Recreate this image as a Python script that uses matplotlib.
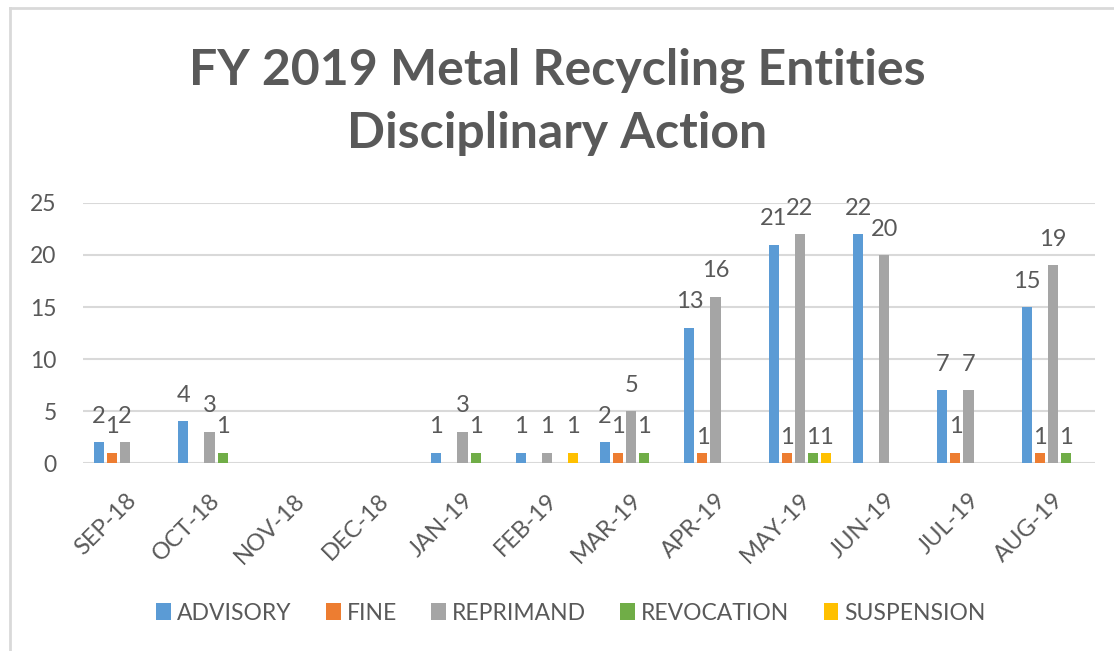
import matplotlib
matplotlib.use("Agg")
import matplotlib.pyplot as plt
from matplotlib.lines import Line2D
import numpy as np

months = ["SEP-18", "OCT-18", "NOV-18", "DEC-18", "JAN-19", "FEB-19",
          "MAR-19", "APR-19", "MAY-19", "JUN-19", "JUL-19", "AUG-19"]
advisory = [2, 4, 0, 0, 1, 1, 2, 13, 21, 22, 7, 15]
fine = [1, 0, 0, 0, 0, 0, 1, 1, 1, 0, 1, 1]
reprimand = [2, 3, 0, 0, 3, 1, 5, 16, 22, 20, 7, 19]
revocation = [0, 1, 0, 0, 1, 0, 1, 0, 1, 0, 0, 1]
suspension = [0, 0, 0, 0, 0, 1, 0, 0, 1, 0, 0, 0]
series_names = ["ADVISORY", "FINE", "REPRIMAND", "REVOCATION", "SUSPENSION"]
series = [advisory, fine, reprimand, revocation, suspension]
colors = ["#5B9BD5", "#ED7D31", "#A5A5A5", "#70AD47", "#FFC000"]
yticks = [0, 5, 10, 15, 20, 25]
title = "FY 2019 Metal Recycling Entities\nDisciplinary Action"

plt.rcParams['font.family'] = ['Lato', 'DejaVu Sans']
txt = "#595959"
fig = plt.figure(figsize=(11.14, 6.51), dpi=100)
W, H = 1114, 651
ax = fig.add_axes([83 / W, (H - 463) / H, (1095 - 83) / W, (463 - 203) / H])

x = np.arange(len(months))
step = 0.155
width = 0.12
group_max = [max(s[j] for s in series) for j in range(len(months))]
for i, (name, vals, c) in enumerate(zip(series_names, series, colors)):
    pos = x + (i - 2) * step
    bars = ax.bar(pos, vals, width, color=c, label=name, zorder=3)
    for j, (b, v) in enumerate(zip(bars, vals)):
        if v:
            # small labels in tall groups sit closer to their bars
            off = 6 if (v == 1 and group_max[j] >= 10) else 14
            ax.annotate(str(v), (b.get_x() + b.get_width() / 2, v),
                        xytext=(0, off), textcoords="offset points",
                        ha="center", va="baseline", fontsize=17, color=txt)

ax.set_xlim(-0.5, len(months) - 0.5)
ax.set_ylim(0, 25)
ax.set_yticks(yticks)
ax.set_yticklabels([str(t) for t in yticks], fontsize=16.5, color=txt)
ax.set_xticks(x)
ax.set_xticklabels(months, rotation=45, ha="right", va="top",
                   rotation_mode="anchor", fontsize=17, color=txt)
ax.tick_params(axis="both", length=0)
ax.tick_params(axis="y", pad=19)
ax.tick_params(axis="x", pad=19)
ax.grid(axis="y", color="#D9D9D9", linewidth=1.5, zorder=0)
for s in ax.spines.values():
    s.set_visible(False)

fig.text(0.5, 1 - 102 / H, title,
         ha="center", va="center", fontsize=36, fontweight="bold", color=txt,
         linespacing=1.48)

leg = fig.legend(loc="center", bbox_to_anchor=(571 / W, 1 - 613 / H), ncol=5,
                 frameon=False, fontsize=16.5, handlelength=0.65, handleheight=0.75,
                 handletextpad=0.25, columnspacing=1.5, labelcolor=txt)

fig.add_artist(Line2D([10 / W, 10 / W], [0, 1 - 8 / H], transform=fig.transFigure,
                      color="#D9D9D9", linewidth=2))
fig.add_artist(Line2D([10 / W, 1], [1 - 8 / H, 1 - 8 / H], transform=fig.transFigure,
                      color="#D9D9D9", linewidth=2))

fig.savefig("out.png", dpi=100, facecolor="white")
